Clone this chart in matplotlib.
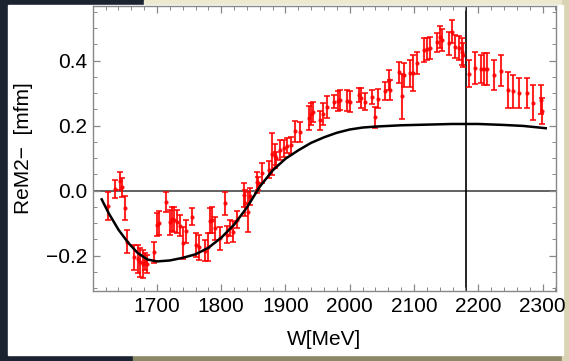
import matplotlib.pyplot as plt
from matplotlib.patches import Rectangle
from matplotlib.ticker import MultipleLocator

# measured points: W [MeV], ReM2- [mfm], error
w_data = [1624, 1634, 1643, 1645, 1650, 1654, 1665, 1670, 1674, 1678,
          1682, 1684, 1696, 1700, 1703, 1714, 1721, 1724, 1727, 1731,
          1736, 1741, 1745, 1754, 1760, 1765, 1775, 1779, 1783, 1786,
          1791, 1798, 1806, 1809, 1814, 1819, 1824, 1835, 1837, 1841,
          1845, 1856, 1858, 1863, 1874, 1879, 1883, 1886, 1892, 1897,
          1902, 1908, 1915, 1923, 1936, 1939, 1943, 1954, 1959, 1965,
          1975, 1981, 1985, 1996, 2001, 2014, 2018, 2024, 2035, 2040,
          2044, 2055, 2061, 2063, 2076, 2081, 2084, 2094, 2099, 2105,
          2115, 2120, 2125, 2136, 2140, 2144, 2154, 2159, 2164, 2170,
          2175, 2177, 2185, 2195, 2204, 2209, 2214, 2225, 2235, 2246,
          2254, 2264, 2276, 2285, 2297, 2299]
re_data = [-0.047, 0.005, 0.030, 0.010, -0.055, -0.157, -0.205, -0.210, -0.221, -0.226,
           -0.218, -0.225, -0.190, -0.105, -0.100, -0.034, -0.098, -0.087, -0.090, -0.096,
           -0.108, -0.162, -0.125, -0.080, -0.167, -0.175, -0.185, -0.175, -0.093, -0.090,
           -0.116, -0.147, -0.039, -0.136, -0.115, -0.126, -0.090, -0.013, -0.038, -0.065,
           -0.018, 0.025, 0.023, 0.054, 0.064, 0.113, 0.107, 0.100, 0.125, 0.130,
           0.138, 0.140, 0.182, 0.180, 0.223, 0.236, 0.243, 0.216, 0.236, 0.257,
           0.274, 0.276, 0.279, 0.277, 0.274, 0.294, 0.284, 0.274, 0.289, 0.225,
           0.283, 0.307, 0.341, 0.310, 0.364, 0.290, 0.356, 0.361, 0.362, 0.392,
           0.433, 0.436, 0.439, 0.456, 0.473, 0.464, 0.453, 0.489, 0.443, 0.439,
           0.428, 0.417, 0.360, 0.377, 0.374, 0.374, 0.374, 0.356, 0.369, 0.310,
           0.305, 0.300, 0.300, 0.271, 0.280, 0.245]
err_data = [0.044, 0.028, 0.028, 0.030, 0.037, 0.036, 0.039, 0.043, 0.044, 0.044,
            0.026, 0.028, 0.033, 0.036, 0.036, 0.031, 0.038, 0.038, 0.038, 0.036,
            0.033, 0.050, 0.035, 0.026, 0.036, 0.038, 0.033, 0.043, 0.038, 0.040,
            0.036, 0.036, 0.036, 0.026, 0.026, 0.031, 0.026, 0.036, 0.040, 0.062,
            0.026, 0.033, 0.020, 0.031, 0.026, 0.064, 0.036, 0.020, 0.031, 0.026,
            0.023, 0.026, 0.031, 0.031, 0.036, 0.033, 0.031, 0.028, 0.033, 0.033,
            0.021, 0.031, 0.031, 0.033, 0.031, 0.021, 0.031, 0.026, 0.021, 0.032,
            0.030, 0.028, 0.031, 0.031, 0.033, 0.070, 0.036, 0.041, 0.055, 0.033,
            0.036, 0.033, 0.033, 0.028, 0.033, 0.033, 0.036, 0.036, 0.036, 0.036,
            0.041, 0.036, 0.041, 0.048, 0.044, 0.048, 0.048, 0.046, 0.048, 0.056,
            0.051, 0.046, 0.046, 0.054, 0.045, 0.040]

# model curve
w_fit = [1614, 1625, 1640, 1655, 1670, 1685, 1700, 1720, 1740, 1760,
         1780, 1800, 1820, 1840, 1860, 1880, 1900, 1920, 1940, 1960,
         1980, 2000, 2020, 2040, 2080, 2120, 2160, 2200, 2240, 2270, 2305]
re_fit = [-0.027, -0.070, -0.120, -0.160, -0.192, -0.212, -0.218, -0.215, -0.207, -0.196,
          -0.176, -0.145, -0.105, -0.052, 0.012, 0.062, 0.098, 0.124, 0.147, 0.164,
          0.178, 0.188, 0.194, 0.197, 0.201, 0.203, 0.205, 0.205, 0.202, 0.199, 0.192]

w_mark = 2181

plt.rcParams['font.family'] = ['Liberation Sans', 'DejaVu Sans']

fig = plt.figure(figsize=(5.69, 3.61), dpi=100, facecolor='#1b2331')

# slide background around the white chart panel
W, H = 569.0, 361.0
def px_rect(x0, y0, x1, y1, color):
    fig.patches.append(Rectangle((x0 / W, 1 - y1 / H), (x1 - x0) / W, (y1 - y0) / H,
                                 transform=fig.transFigure, color=color, zorder=0))

px_rect(144, 0, 569, 6, '#ece9cf')
px_rect(133, 354, 569, 361, '#8b8868')
px_rect(562, 0, 569, 361, '#d8d4b4')
px_rect(8, 5, 563, 355, 'white')

ax = fig.add_axes([92.7 / W, 1 - 291 / H, (556 - 92.7) / W, (291 - 5.7) / H])
ax.set_zorder(2)
ax.set_facecolor('white')

ax.axhline(0, color='#555555', lw=1.3, zorder=1)
ax.axvline(w_mark, color='black', lw=1.2, zorder=1)

ax.errorbar(w_data, re_data, yerr=err_data, fmt='o', ms=2, color='#ff0000',
            ecolor='#ff0000', elinewidth=1.5, capsize=2.5, capthick=1.3,
            alpha=0.85, zorder=3)
ax.plot(w_fit, re_fit, color='black', lw=1.8, zorder=4)

ax.set_xlim(1600, 2321)
ax.set_ylim(-0.309, 0.569)
ax.xaxis.set_major_locator(MultipleLocator(100))
ax.xaxis.set_minor_locator(MultipleLocator(20))
ax.yaxis.set_major_locator(MultipleLocator(0.2))
ax.yaxis.set_minor_locator(MultipleLocator(0.05))
ax.yaxis.set_major_formatter(plt.FuncFormatter(lambda v, p: f'{v:.1f}'.replace('-', '\u2212')))
ax.set_xticks([1700, 1800, 1900, 2000, 2100, 2200, 2300])

for s in ax.spines.values():
    s.set_color('#888888')
    s.set_linewidth(1.0)
ax.tick_params(which='both', direction='in', top=True, right=True, color='#888888')
ax.tick_params(which='major', length=5, width=0.9, labelsize=15)
ax.tick_params(which='minor', length=3, width=0.7)
ax.tick_params(axis='x', pad=4)
ax.tick_params(axis='y', pad=4)

ax.set_xlabel('W[MeV]', fontsize=15)
ax.set_ylabel('ReM2\u2212  [mfm]', fontsize=15)
ax.xaxis.set_label_coords(0.5, -0.137)
ax.yaxis.set_label_coords(-0.129, 0.5)

fig.savefig('out.png', dpi=100, facecolor=fig.get_facecolor())
